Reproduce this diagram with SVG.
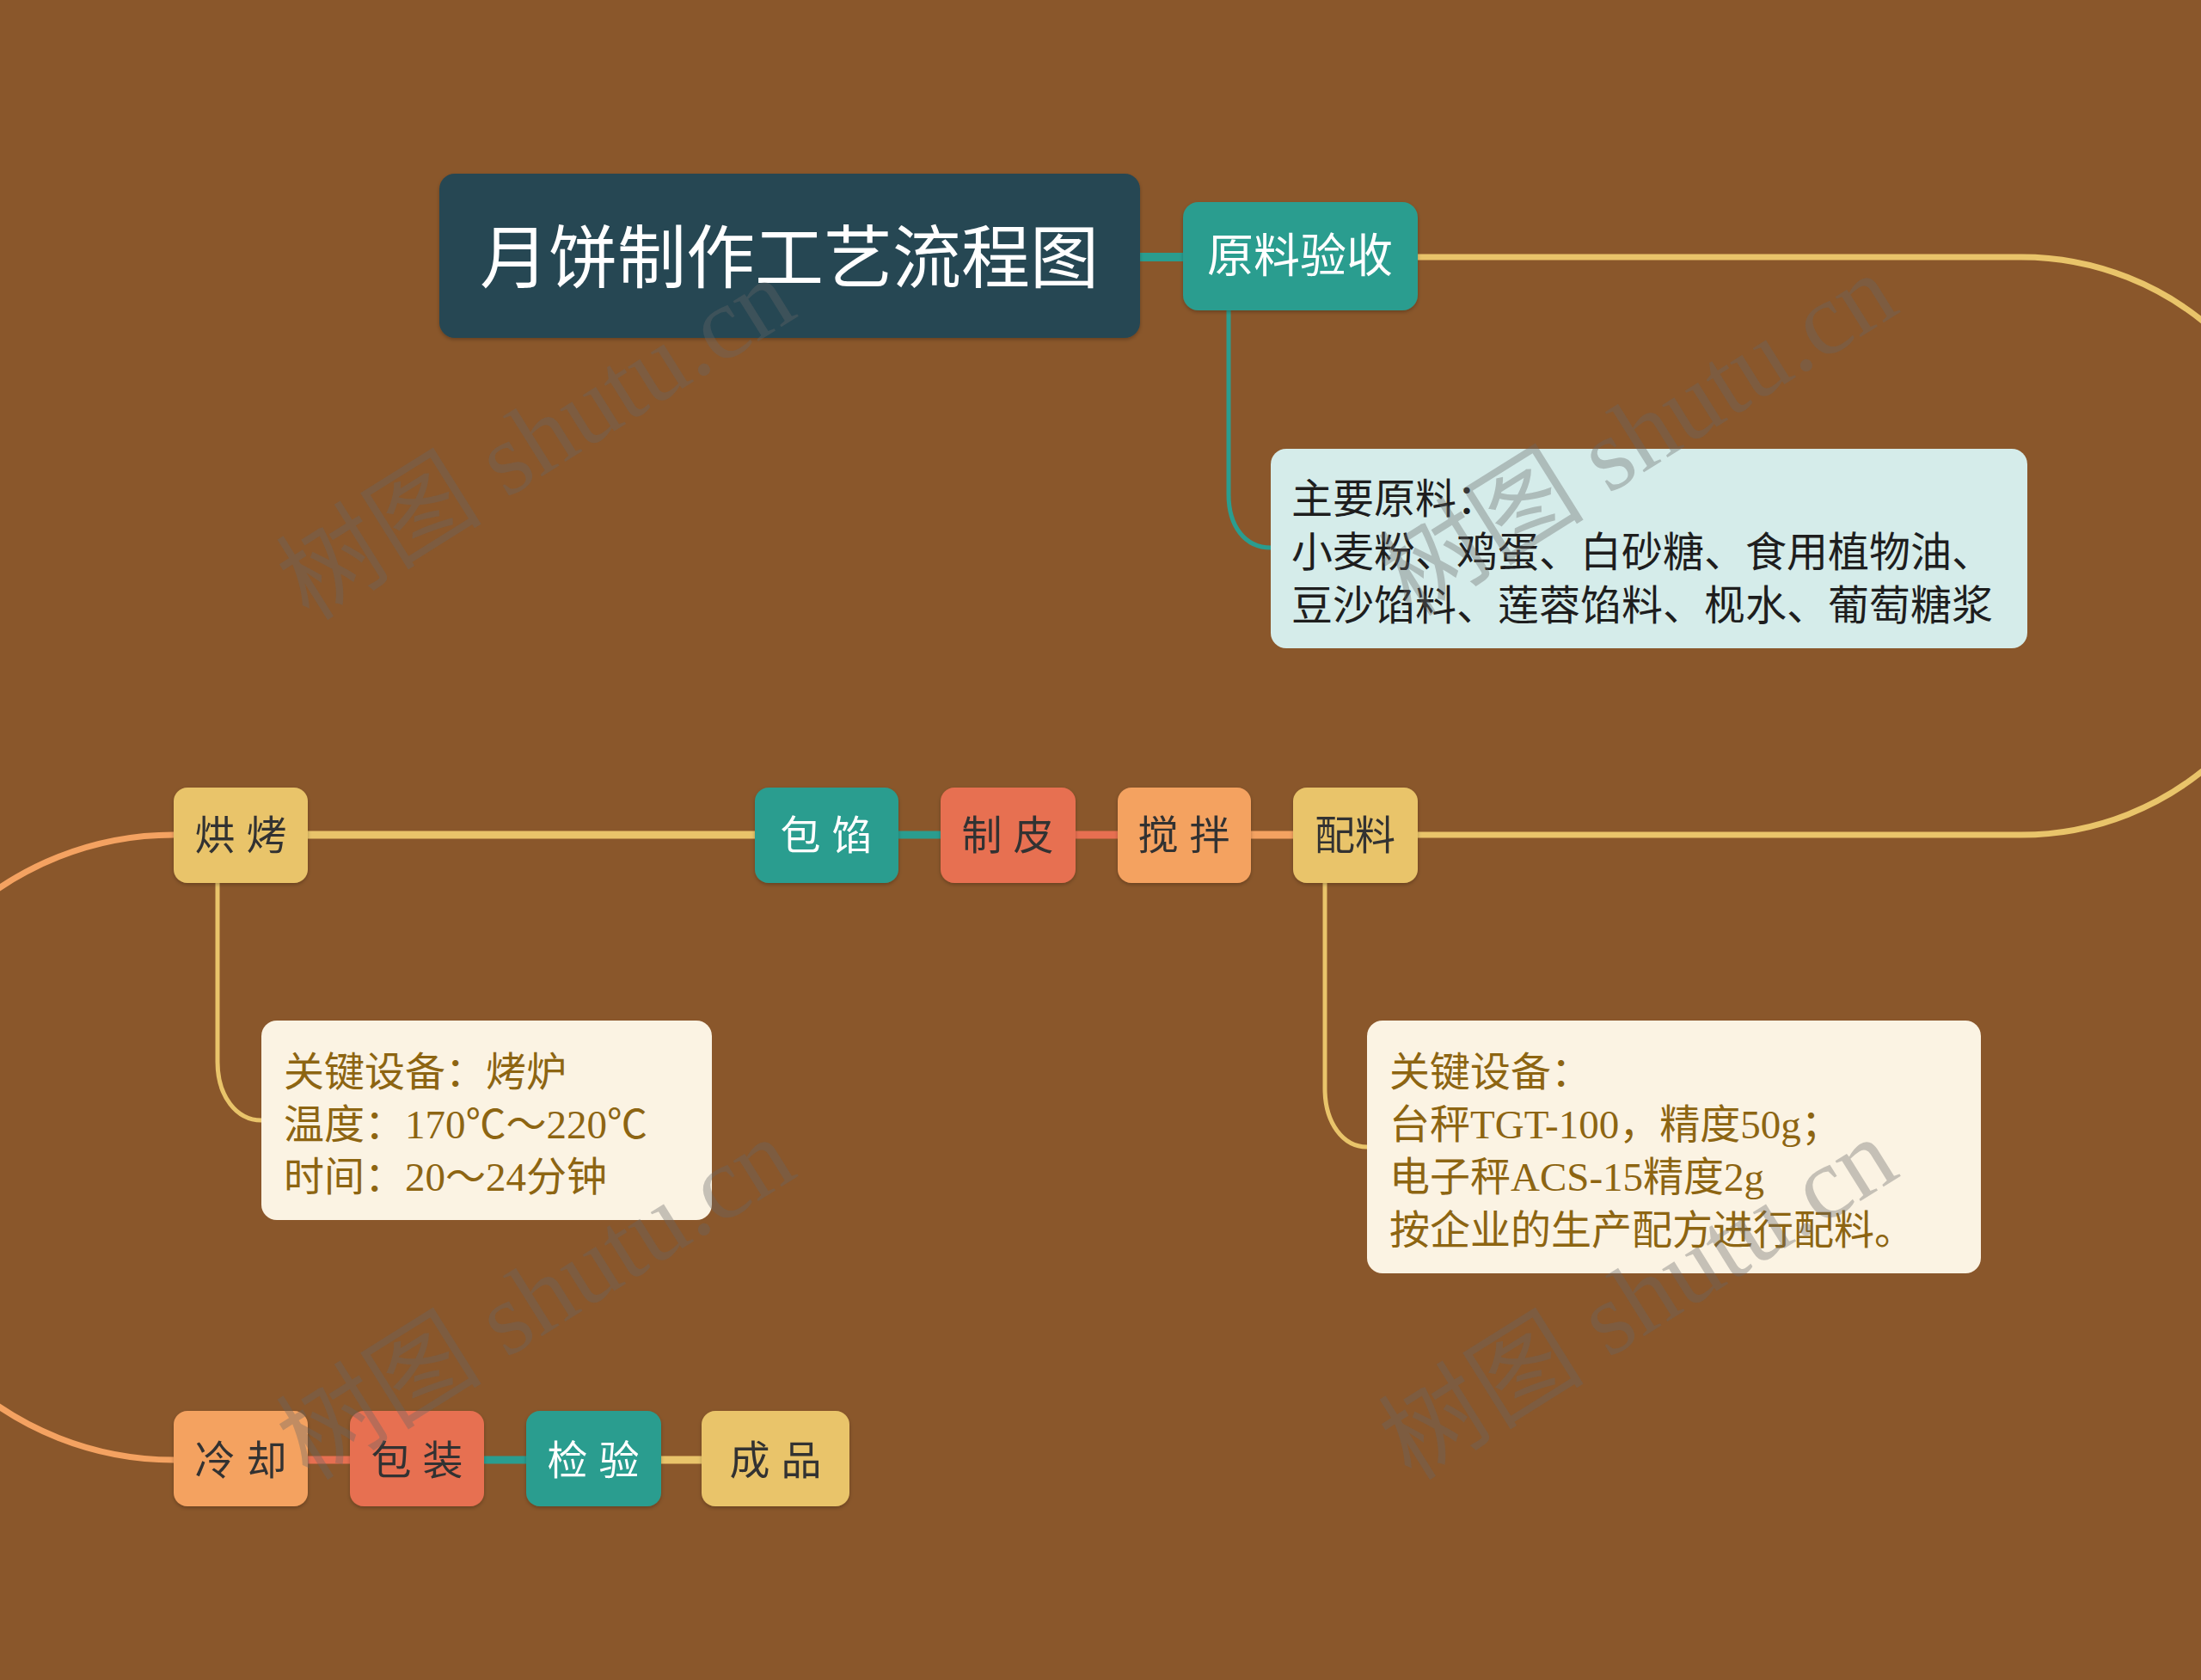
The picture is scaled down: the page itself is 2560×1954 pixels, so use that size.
<svg xmlns="http://www.w3.org/2000/svg" width="2560" height="1954" viewBox="0 0 2560 1954">
<style>
.bg{fill:#8a572b}
.t{font-family:"Liberation Sans","Noto Sans CJK SC",sans-serif;text-anchor:middle}
.dark{fill:#333333}
.light{fill:#ffffff}
.note{font-family:"Liberation Serif","Noto Sans CJK SC",serif;font-size:47px}
.line{fill:none;stroke-linecap:butt}
.wm{font-family:"Liberation Serif","Noto Sans CJK SC",serif;font-size:120px;fill:#666666;fill-opacity:0.36;text-anchor:middle}
</style>
<defs>
<filter id="sh" x="-10%" y="-10%" width="120%" height="130%">
<feDropShadow dx="0" dy="2" stdDeviation="2" flood-color="#000" flood-opacity="0.25"/>
</filter>
</defs>
<rect class="bg" x="0" y="0" width="2560" height="1954"/>

<g id="connectors">
<line class="line" x1="1326" y1="299" x2="1376" y2="299" stroke="#2a9d8f" stroke-width="10"/>
<path class="line" d="M1649,299 H2351 A336,336 0 0 1 2351,971 H1649" stroke="#e9c46a" stroke-width="7"/>
<line class="line" x1="1504" y1="971" x2="1455" y2="971" stroke="#f4a261" stroke-width="9"/>
<line class="line" x1="1300" y1="971" x2="1251" y2="971" stroke="#e76f51" stroke-width="9"/>
<line class="line" x1="1094" y1="971" x2="1045" y2="971" stroke="#2a9d8f" stroke-width="9"/>
<line class="line" x1="878" y1="971" x2="358" y2="971" stroke="#e9c46a" stroke-width="9"/>
<path class="line" d="M202,971 A363.5,363.5 0 0 0 202,1698" stroke="#f4a261" stroke-width="7"/>
<line class="line" x1="358" y1="1698" x2="407" y2="1698" stroke="#e76f51" stroke-width="9"/>
<line class="line" x1="563" y1="1698" x2="612" y2="1698" stroke="#2a9d8f" stroke-width="9"/>
<line class="line" x1="769" y1="1698" x2="816" y2="1698" stroke="#e9c46a" stroke-width="9"/>
<path class="line" d="M1429,361 V575 C1429,612 1448,637 1478,637" stroke="#2a9d8f" stroke-width="5"/>
<path class="line" d="M253,1027 V1235 C253,1275 275,1303 304,1303" stroke="#e9c46a" stroke-width="5"/>
<path class="line" d="M1541,1027 V1266 C1541,1306 1562,1334 1590,1334" stroke="#e9c46a" stroke-width="5"/>
</g>

<g id="title" filter="url(#sh)">
<rect x="511" y="202" width="815" height="191" rx="18" fill="#264653"/>
<text class="t light" x="918" y="328" font-size="80">月饼制作工艺流程图</text>
</g>

<g id="yuanliao" filter="url(#sh)">
<rect x="1376" y="235" width="273" height="126" rx="18" fill="#2a9d8f"/>
<text class="t light" x="1512" y="317" font-size="54">原料验收</text>
</g>

<g id="note-yuanliao">
<rect x="1478" y="522" width="880" height="232" rx="18" fill="#d5ecea"/>
<text class="note" fill="#1e1e1e" font-size="48" style="font-size:48px"><tspan x="1502" y="597">主要原料：</tspan><tspan x="1502" y="659">小麦粉、鸡蛋、白砂糖、食用植物油、</tspan><tspan x="1502" y="721">豆沙馅料、莲蓉馅料、枧水、葡萄糖浆</tspan></text>
</g>

<g id="peiliao" filter="url(#sh)">
<rect x="1504" y="916" width="145" height="111" rx="16" fill="#e9c46a"/>
<text class="t dark" x="1576" y="988" font-size="47">配料</text>
</g>
<g id="jiaoban" filter="url(#sh)">
<rect x="1300" y="916" width="155" height="111" rx="16" fill="#f4a261"/>
<text class="t dark" x="1377" y="988" font-size="47">搅 拌</text>
</g>
<g id="zhipi" filter="url(#sh)">
<rect x="1094" y="916" width="157" height="111" rx="16" fill="#e76f51"/>
<text class="t dark" x="1172" y="988" font-size="47">制 皮</text>
</g>
<g id="baoxian" filter="url(#sh)">
<rect x="878" y="916" width="167" height="111" rx="16" fill="#2a9d8f"/>
<text class="t light" x="961" y="988" font-size="47">包 馅</text>
</g>
<g id="hongkao" filter="url(#sh)">
<rect x="202" y="916" width="156" height="111" rx="16" fill="#e9c46a"/>
<text class="t dark" x="280" y="988" font-size="47">烘 烤</text>
</g>

<g id="note-hongkao">
<rect x="304" y="1187" width="524" height="232" rx="18" fill="#fbf3e3"/>
<text class="note" fill="#8d6512"><tspan x="330" y="1263">关键设备：烤炉</tspan><tspan x="330" y="1324">温度：170℃～220℃</tspan><tspan x="330" y="1385">时间：20～24分钟</tspan></text>
</g>

<g id="note-peiliao">
<rect x="1590" y="1187" width="714" height="294" rx="18" fill="#fbf3e3"/>
<text class="note" fill="#8d6512"><tspan x="1616" y="1263">关键设备：</tspan><tspan x="1616" y="1324">台秤TGT-100，精度50g；</tspan><tspan x="1616" y="1385">电子秤ACS-15精度2g</tspan><tspan x="1616" y="1447">按企业的生产配方进行配料。</tspan></text>
</g>

<g id="lengque" filter="url(#sh)">
<rect x="202" y="1641" width="156" height="111" rx="16" fill="#f4a261"/>
<text class="t dark" x="280" y="1715" font-size="47">冷 却</text>
</g>
<g id="baozhuang" filter="url(#sh)">
<rect x="407" y="1641" width="156" height="111" rx="16" fill="#e76f51"/>
<text class="t dark" x="485" y="1715" font-size="47">包 装</text>
</g>
<g id="jianyan" filter="url(#sh)">
<rect x="612" y="1641" width="157" height="111" rx="16" fill="#2a9d8f"/>
<text class="t light" x="690" y="1715" font-size="47">检 验</text>
</g>
<g id="chengpin" filter="url(#sh)">
<rect x="816" y="1641" width="172" height="111" rx="16" fill="#e9c46a"/>
<text class="t dark" x="902" y="1715" font-size="47">成 品</text>
</g>

<g id="watermarks">
<text class="wm" transform="translate(645,545) rotate(-32)">树图 shutu.cn</text>
<text class="wm" transform="translate(1927,540) rotate(-32)">树图 shutu.cn</text>
<text class="wm" transform="translate(645,1545) rotate(-32)">树图 shutu.cn</text>
<text class="wm" transform="translate(1927,1545) rotate(-32)">树图 shutu.cn</text>
</g>
</svg>
